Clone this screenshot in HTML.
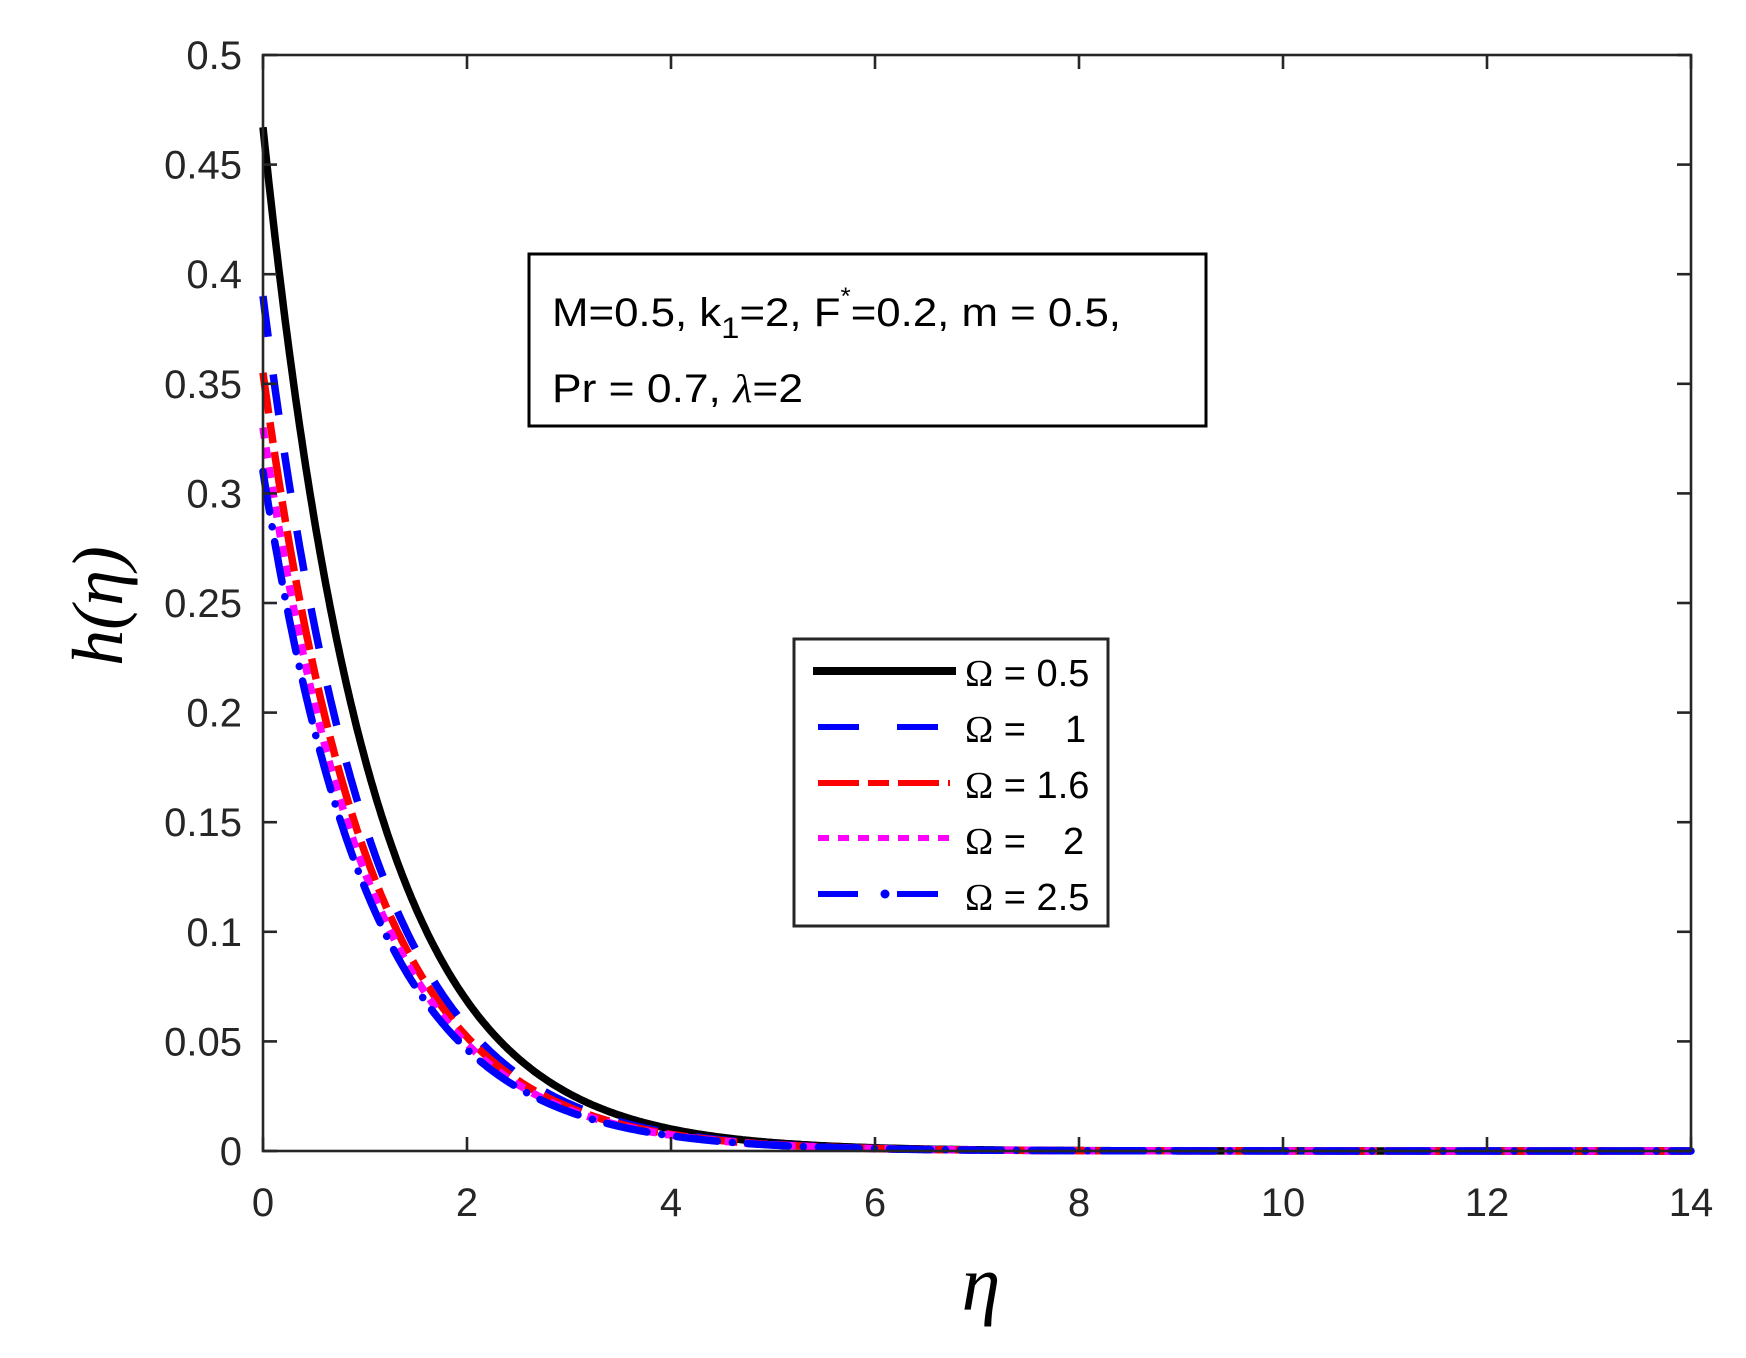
<!DOCTYPE html>
<html><head><meta charset="utf-8"><style>html,body{margin:0;padding:0;background:#fff;}svg{display:block}</style></head>
<body>
<svg id="s" width="1746" height="1358" viewBox="0 0 1746 1358" xmlns="http://www.w3.org/2000/svg">
<rect width="1746" height="1358" fill="#fff"/>
<g id="curves" fill="none" stroke-linejoin="round"></g>
<g id="axes" stroke="#262626" stroke-width="2.6" fill="none"></g>
<g id="labels" font-family="Liberation Sans, sans-serif" font-size="40" fill="#262626"></g>
<rect x="529" y="254" width="677" height="172" fill="#fff" stroke="#000" stroke-width="3"/>
<text x="552" y="326" font-family="Liberation Sans, sans-serif" font-size="40" textLength="569" lengthAdjust="spacingAndGlyphs">M=0.5, k<tspan dy="12" font-size="30">1</tspan><tspan dy="-12">=2, F</tspan><tspan dy="-22" font-size="24">*</tspan><tspan dy="22">=0.2, m = 0.5,</tspan></text>
<text x="552" y="402" font-family="Liberation Sans, sans-serif" font-size="40" textLength="251" lengthAdjust="spacingAndGlyphs">Pr = 0.7, <tspan font-family="Liberation Serif, serif" font-style="italic">λ</tspan>=2</text>
<rect x="794" y="639" width="314" height="287" fill="#fff" stroke="#262626" stroke-width="3"/>
<g stroke-width="6">
<line x1="813" y1="671" x2="956" y2="671" stroke="#000" stroke-width="8"/>
<line x1="818" y1="727" x2="950" y2="727" stroke="#00f" stroke-dasharray="41 38"/>
<line x1="818" y1="783" x2="950" y2="783" stroke="#f00" stroke-dasharray="41 9 21 9"/>
<line x1="818" y1="838" x2="950" y2="838" stroke="#f0f" stroke-dasharray="11 9"/>
<line x1="818" y1="894" x2="858" y2="894" stroke="#00f"/>
<line x1="897" y1="894" x2="938" y2="894" stroke="#00f"/>
<circle cx="885" cy="894" r="4.5" fill="#00f" stroke="none"/>
</g>
<g font-family="Liberation Sans, sans-serif" font-size="38" fill="#000">
<text x="965" y="686"><tspan font-family="Liberation Serif, serif">Ω</tspan> = 0.5</text>
<text x="965" y="742"><tspan font-family="Liberation Serif, serif">Ω</tspan> =   <tspan x="1065">1</tspan></text>
<text x="965" y="798"><tspan font-family="Liberation Serif, serif">Ω</tspan> = 1.6</text>
<text x="965" y="854"><tspan font-family="Liberation Serif, serif">Ω</tspan> = <tspan x="1063">2</tspan></text>
<text x="965" y="910"><tspan font-family="Liberation Serif, serif">Ω</tspan> = 2.5</text>
</g>
<text x="981" y="1310" font-family="Liberation Serif, serif" font-style="italic" font-size="78" text-anchor="middle">η</text>
<text transform="translate(122,606) rotate(-90)" font-family="Liberation Serif, serif" font-style="italic" font-size="72" text-anchor="middle">h(η)</text>
<script>
(function(){
var NS="http://www.w3.org/2000/svg";
var L=263,R=1691,T=55,B=1151;
function X(e){return L+e*(R-L)/14;}
function Y(v){return B-v*(B-T)/0.5;}
var ax=document.getElementById('axes');
function el(p,tag,a){var e=document.createElementNS(NS,tag);for(var k in a)e.setAttribute(k,a[k]);p.appendChild(e);return e;}
var cg=document.getElementById('curves');
var series=[
 {h:0.467,k:0.96,c:"#000",w:7.5,d:""},
 {h:0.39,k:0.965,c:"#00f",w:7.5,d:"41 38"},
 {h:0.355,k:0.96,c:"#f00",w:7.5,d:"41 9 21 9"},
 {h:0.33,k:0.955,c:"#f0f",w:7.5,d:"11 9"},
 {h:0.31,k:0.95,c:"#00f",w:7.5,d:"41 15 0.1 15",dot:1}
];
series.forEach(function(s){
 var p="";
 for(var i=0;i<=700;i++){var e=i*0.02;var v=s.h*Math.exp(-s.k*e);p+=(i?"L":"M")+X(e).toFixed(1)+","+Y(v).toFixed(1);}
 var a={d:p,stroke:s.c,"stroke-width":s.w};
 if(s.d)a["stroke-dasharray"]=s.d;
 if(s.dot)a["stroke-linecap"]="round";
 el(cg,"path",a);
});
el(ax,"rect",{x:L,y:T,width:R-L,height:B-T});
var lg=document.getElementById('labels');
for(var i=0;i<=10;i++){
 var v=i*0.05,y=Y(v);
 el(ax,"line",{x1:L,y1:y,x2:L+14,y2:y});
 el(ax,"line",{x1:R,y1:y,x2:R-14,y2:y});
 var t=el(lg,"text",{x:242,y:y+14,"text-anchor":"end"});
 var s=(Math.round(v*100)/100).toString();
 t.textContent=s;
}
for(var j=0;j<=7;j++){
 var x=X(j*2);
 el(ax,"line",{x1:x,y1:B,x2:x,y2:B-14});
 el(ax,"line",{x1:x,y1:T,x2:x,y2:T+14});
 var t2=el(lg,"text",{x:x,y:1216,"text-anchor":"middle"});
 t2.textContent=String(j*2);
}
})();
</script>
</svg>
</body></html>
